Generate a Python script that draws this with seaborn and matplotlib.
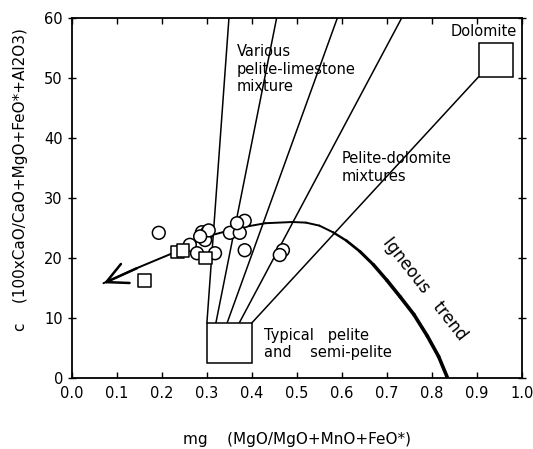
import numpy as np
import pandas as pd
import matplotlib
matplotlib.use("Agg")
import matplotlib.pyplot as plt
from matplotlib.patches import Rectangle
import seaborn as sns

# Sample points (mg, c)
circle_mg = [0.193, 0.289, 0.300, 0.296, 0.304, 0.262, 0.278, 0.318, 0.351,
             0.373, 0.384, 0.367, 0.384, 0.469, 0.462, 0.285]
circle_c = [24.2, 24.3, 24.2, 23.0, 24.6, 22.2, 20.8, 20.8, 24.2,
            24.2, 26.2, 25.8, 21.3, 21.3, 20.5, 23.6]
square_mg = [0.235, 0.247, 0.296, 0.162]
square_c = [21.0, 21.2, 20.0, 16.3]

# Reference fields
pelite_box = [0.30, 0.40, 2.5, 9.2]      # x0, x1, y0, y1
dolomite_box = [0.904, 0.98, 50.2, 55.8]

# Mixing lines (from pelite field)
fan_x0 = [0.30, 0.32, 0.345, 0.372, 0.40]
fan_y0 = [9.2, 9.2, 9.2, 9.2, 9.2]
fan_x1 = [0.349, 0.455, 0.59, 0.733, 0.904]
fan_y1 = [60, 60, 60, 60, 50.2]

# Igneous trend
trend_x = [0.07, 0.15, 0.23, 0.30, 0.37, 0.43, 0.49, 0.52, 0.55, 0.58, 0.61, 0.64,
           0.67, 0.70, 0.73, 0.76, 0.79, 0.815, 0.835]
trend_y = [15.8, 18.5, 21.0, 23.6, 25.0, 25.8, 26.0, 25.9, 25.4, 24.3, 22.9, 21.1,
           18.9, 16.3, 13.5, 10.6, 7.0, 3.6, 0.0]

df = pd.DataFrame({
    "mg": circle_mg + square_mg,
    "c": circle_c + square_c,
    "type": ["circle"] * len(circle_mg) + ["square"] * len(square_mg),
})

sns.set_style("ticks")
plt.rcParams["font.family"] = ["DejaVu Sans"]
plt.rcParams["text.color"] = "black"
plt.rcParams["axes.labelcolor"] = "black"
plt.rcParams["xtick.color"] = "black"
plt.rcParams["ytick.color"] = "black"
plt.rcParams["axes.edgecolor"] = "black"

fig = plt.figure(figsize=(5.33, 4.49), dpi=100)
ax = fig.add_axes([0.135, 0.158, 0.844, 0.802])

# mixing lines
for x0, y0, x1, y1 in zip(fan_x0, fan_y0, fan_x1, fan_y1):
    ax.plot([x0, x1], [y0, y1], color="black", lw=1.1, zorder=2)

# igneous trend, thickening towards the end
n = len(trend_x)
for i in range(n - 1):
    w = 1.4 if trend_x[i] < 0.55 else 1.4 + (trend_x[i] - 0.55) * 9
    ax.plot(trend_x[i:i + 2], trend_y[i:i + 2], color="black", lw=min(w, 2.6),
            solid_capstyle="round", zorder=3)
ax.annotate("", xy=(trend_x[0] - 0.005, trend_y[0] - 0.2), xytext=(trend_x[1], trend_y[1]),
            arrowprops=dict(arrowstyle="->,head_length=1.5,head_width=0.75", lw=1.8, color="black"),
            zorder=3)

# fields
ax.add_patch(Rectangle((pelite_box[0], pelite_box[2]), pelite_box[1] - pelite_box[0],
                       pelite_box[3] - pelite_box[2], fill=True, facecolor="white",
                       edgecolor="black", lw=1.1, zorder=4))
ax.add_patch(Rectangle((dolomite_box[0], dolomite_box[2]), dolomite_box[1] - dolomite_box[0],
                       dolomite_box[3] - dolomite_box[2], fill=True, facecolor="white",
                       edgecolor="black", lw=1.1, zorder=4))

sns.scatterplot(data=df, x="mg", y="c", style="type", markers={"circle": "o", "square": "s"},
                s=85, color="white", edgecolor="black", linewidth=1.1, legend=False,
                ax=ax, zorder=5)

# annotations
ax.text(0.367, 55.6, "Various\npelite-limestone\nmixture", fontsize=10.5, va="top",
        ha="left", linespacing=1.2, zorder=6)
ax.text(0.60, 37.8, "Pelite-dolomite\nmixtures", fontsize=10.5, va="top", ha="left",
        linespacing=1.2, zorder=6)
ax.text(0.99, 57.7, "Dolomite", fontsize=10.5, va="center", ha="right", zorder=6)
ax.text(0.427, 5.7, "Typical   pelite\nand    semi-pelite", fontsize=10.5, va="center",
        ha="left", linespacing=1.2, zorder=6)
ax.text(0.785, 14.8, "Igneous   trend", fontsize=12, rotation=-52, va="center",
        ha="center", rotation_mode="anchor", zorder=6)

ax.set_xlim(0, 1.0)
ax.set_ylim(0, 60)
ax.set_xticks(np.arange(0, 1.01, 0.1))
ax.set_xticklabels([f"{v:.1f}" for v in np.arange(0, 1.01, 0.1)])
ax.set_yticks(np.arange(0, 61, 10))
ax.tick_params(axis="x", direction="in", length=4, width=1, labelsize=10.5, top=True, pad=6)
ax.tick_params(axis="y", direction="inout", length=6, width=1, labelsize=10.5, right=True)
for sp in ax.spines.values():
    sp.set_linewidth(1.3)
    sp.set_visible(True)

ax.set_xlabel("mg    (MgO/MgO+MnO+FeO*)", fontsize=11, labelpad=22)
ax.set_ylabel("c    (100xCaO/CaO+MgO+FeO*+Al2O3)", fontsize=11, labelpad=12)
ax.yaxis.set_label_coords(-0.098, 0.55)

fig.savefig("out.png", dpi=100)
